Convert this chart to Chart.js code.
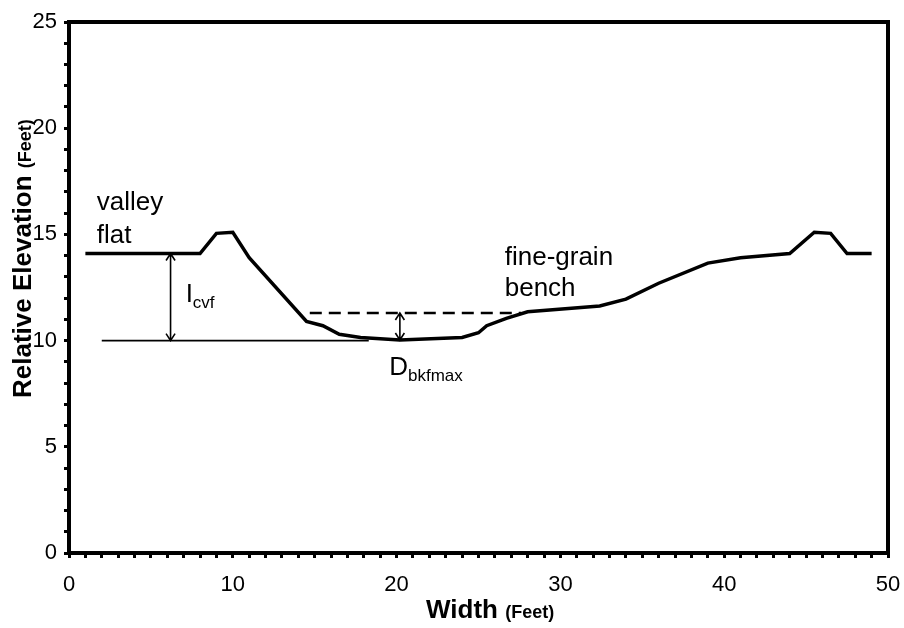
<!DOCTYPE html>
<html>
<head>
<meta charset="utf-8">
<script src="https://cdn.jsdelivr.net/npm/chart.js@4/dist/chart.umd.min.js"></script>
<style>
  html, body { margin: 0; padding: 0; background: #fff; }
  #wrap { width: 904px; height: 628px; }
</style>
</head>
<body>
<div id="wrap"><canvas id="chart" width="904" height="628"></canvas></div>
<script>
// Channel cross-section
const widthFt = [1, 8, 9, 10, 11, 14.5, 15.5, 16.5, 17.8, 20.2, 24, 25, 25.5, 26.7, 28, 32.4, 34, 36, 39, 41, 44, 45.5, 46.5, 47.5, 49]
const elevationFt = [14.1, 14.1, 15.05, 15.1, 13.9, 10.9, 10.7, 10.3, 10.15, 10.03, 10.15, 10.37, 10.7, 11.05, 11.36, 11.63, 11.95, 12.7, 13.65, 13.9, 14.1, 15.1, 15.05, 14.1, 14.1]

// bankfull (fine-grain bench) level, dashed
const benchX = [14.7, 27.6]
const benchY = [11.3, 11.3]

// thalweg reference line
const thalwegX = [2, 18.3]
const thalwegY = [10, 10]

// dimension arrows: [x, yFrom, yTo]
const icvfArrow = [6.2, 14.1, 10]
const dbkfArrow = [20.2, 11.3, 10.03]

const xTickLabels = [0, 10, 20, 30, 40, 50]
const yTickLabels = [0, 5, 10, 15, 20, 25]

const FONT = "'Liberation Sans', Arial, sans-serif"

const toPoints = (xs, ys) => xs.map((x, i) => ({ x: x, y: ys[i] }))

function arrow(ctx, x, y1, y2) {
  const head = 7
  ctx.beginPath()
  ctx.moveTo(x, y1)
  ctx.lineTo(x, y2)
  const ends = [[y1, y2 > y1 ? 1 : -1], [y2, y2 > y1 ? -1 : 1]]
  ends.forEach(([y, dir]) => {
    ctx.moveTo(x - 4.5, y + dir * head)
    ctx.lineTo(x, y)
    ctx.lineTo(x + 4.5, y + dir * head)
  })
  ctx.stroke()
}

function subText(ctx, x, y, main, sub) {
  ctx.font = "26px " + FONT
  ctx.fillText(main, x, y)
  const w = ctx.measureText(main).width
  ctx.font = "17px " + FONT
  ctx.fillText(sub, x + w, y + 6)
}

// frame, labels, arrows and axis titles
const decorations = {
  id: "decorations",
  afterDatasetsDraw(chart) {
    const { ctx, chartArea: a, scales } = chart
    const px = v => scales.x.getPixelForValue(v)
    const py = v => scales.y.getPixelForValue(v)

    ctx.save()
    ctx.fillStyle = "#000"
    ctx.strokeStyle = "#000"

    // plot frame
    ctx.lineWidth = 4
    ctx.strokeRect(a.left, a.top, a.right - a.left, a.bottom - a.top)

    // arrows
    ctx.lineWidth = 1.6
    arrow(ctx, px(icvfArrow[0]), py(icvfArrow[1]), py(icvfArrow[2]))
    arrow(ctx, px(dbkfArrow[0]), py(dbkfArrow[1]), py(dbkfArrow[2]))

    // annotation text
    ctx.textAlign = "left"
    ctx.textBaseline = "alphabetic"
    ctx.font = "26px " + FONT
    ctx.fillText("valley", px(1.7), py(16.15))
    ctx.fillText("flat", px(1.7), py(14.6))
    ctx.fillText("fine-grain", px(26.6), py(13.56))
    ctx.fillText("bench", px(26.6), py(12.08))
    subText(ctx, px(7.12), py(11.83), "I", "cvf")
    subText(ctx, px(19.55), py(8.38), "D", "bkfmax")

    // x title
    ctx.font = "bold 26px " + FONT
    ctx.fillText("Width", 426, 618)
    let w = ctx.measureText("Width ").width
    ctx.font = "bold 18px " + FONT
    ctx.fillText("(Feet)", 426 + w, 618)

    // y title
    ctx.translate(31, 398)
    ctx.rotate(-Math.PI / 2)
    ctx.font = "bold 26px " + FONT
    ctx.fillText("Relative Elevation", 0, 0)
    w = ctx.measureText("Relative Elevation ").width
    ctx.font = "bold 18px " + FONT
    ctx.fillText("(Feet)", w, 0)
    ctx.restore()
  }
}

const ctx = document.getElementById("chart").getContext("2d")
new Chart(ctx, {
  type: "line",
  data: {
    datasets: [
      {
        data: toPoints(widthFt, elevationFt),
        borderColor: "#000",
        borderWidth: 3.5,
        pointRadius: 0,
        tension: 0
      },
      {
        data: toPoints(benchX, benchY),
        borderColor: "#000",
        borderWidth: 2.6,
        borderDash: [12, 7],
        pointRadius: 0
      },
      {
        data: toPoints(thalwegX, thalwegY),
        borderColor: "#000",
        borderWidth: 1.8,
        pointRadius: 0
      }
    ]
  },
  options: {
    responsive: false,
    animation: false,
    devicePixelRatio: 1,
    layout: { padding: { top: 22, right: 16, left: 0, bottom: 0 } },
    plugins: {
      legend: { display: false },
      tooltip: { enabled: false }
    },
    scales: {
      x: {
        type: "linear",
        min: 0,
        max: 50,
        afterFit: s => {
          s.height = 75
          s.paddingLeft = 0
          s.paddingRight = 0
        },
        border: { display: false },
        grid: { drawOnChartArea: false, tickLength: 5, tickWidth: 3, tickColor: "#000" },
        ticks: {
          stepSize: 1,
          autoSkip: false,
          maxRotation: 0,
          padding: 14,
          color: "#000",
          font: { family: FONT, size: 22 },
          callback: v => xTickLabels.includes(v) ? String(v) : ""
        }
      },
      y: {
        min: 0,
        max: 25,
        afterFit: s => {
          s.width = 69
          s.paddingTop = 0
          s.paddingBottom = 0
        },
        border: { display: false },
        grid: { drawOnChartArea: false, tickLength: 5, tickWidth: 3, tickColor: "#000" },
        ticks: {
          stepSize: 1,
          autoSkip: false,
          padding: 7,
          color: "#000",
          font: { family: FONT, size: 22 },
          callback: v => yTickLabels.includes(v) ? String(v) : ""
        }
      }
    }
  },
  plugins: [decorations]
})
</script>
</body>
</html>
